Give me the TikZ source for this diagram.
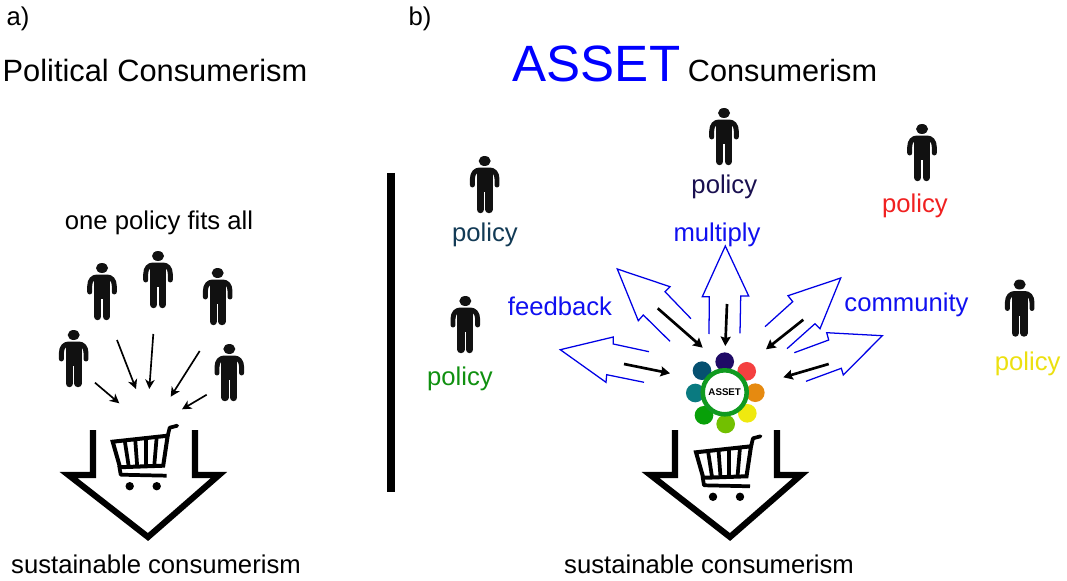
\documentclass[tikz,border=0pt]{standalone}
\usepackage{fontspec}
\setmainfont{Liberation Sans}
\usetikzlibrary{arrows.meta}
\definecolor{inkb}{HTML}{111111}
\definecolor{bluetxt}{HTML}{1010F0}
\definecolor{polA}{HTML}{123A55}
\definecolor{polB}{HTML}{1A1050}
\definecolor{polC}{HTML}{F02020}
\definecolor{polD}{HTML}{109010}
\definecolor{polE}{HTML}{ECE010}
\tikzset{
  lab/.style={anchor=base,inner sep=0pt,font=\fontsize{19.25pt}{23pt}\selectfont},
  small arrow/.style={draw=black,line width=1.25pt,-{Stealth[length=7pt,width=7pt,inset=2pt]}},
  big arrow/.style={draw=black,line width=2pt,-{Stealth[length=7pt,width=7.5pt,inset=1pt]}},
  open arrow/.style={draw=blue!90!black,line width=0.95pt,line join=miter},
  petal/.style={circle,minimum size=14pt,inner sep=0pt},
  person/.pic={
    \fill[inkb] (0,5) ellipse [x radius=6,y radius=5];
    \draw[inkb,line width=3.7pt,line cap=round,line join=round] (-12.3,29) -- (-12.3,23) .. controls (-12.3,17) and (-9,14) .. (-5,14) -- (5,14) .. controls (9,14) and (12.3,17) .. (12.3,23) -- (12.3,29);
    \fill[inkb] (-8,13) rectangle (8,36);
    \draw[inkb,line width=5.6pt,line cap=round] (-4.4,33) -- (-4.4,53.5);
    \draw[inkb,line width=5.6pt,line cap=round] (4.4,33) -- (4.4,53.5);
  },
  cart/.pic={
    \draw[black,line width=3pt,line join=miter] (0,0) -- (55,-6) -- (50.5,24) -- (7.3,25.5) -- cycle;
    \draw[black,line width=2.8pt,line cap=round,line join=round] (55,-6) -- (57,-14) -- (64.5,-16);
    \draw[black,line width=2.8pt,line join=round] (6.5,24) -- (8,33) -- (54,34);
    \foreach \a/\b/\c in {12/-1.3/16,22.5/-2.4/24.5,33/-3.6/33,44/-4.8/41.5}
      \draw[black,line width=2.8pt] (\a,\b) -- (\c,24.5);
    \fill[black] (17,44.5) circle [radius=4.2];
    \fill[black] (44,44.5) circle [radius=4.2];
  },
  downarrow/.pic={
    \draw[black,line width=4.6pt,line join=miter,miter limit=12] (93,430) -- (93,475) -- (68.5,475) -- (148,537) -- (219,475) -- (195,475) -- (195,430);
  }
}
\begin{document}
\begin{tikzpicture}[x=0.75pt,y=-0.75pt]
\useasboundingbox (0,0) rectangle (1067,581);

% --- titles
\node[lab] (aLabel) at (18,26) {a)};
\node[lab,font=\fontsize{23.1pt}{27pt}\selectfont] (titleA) at (155,81.7) {Political Consumerism};
\node[lab] (fitsAll) at (159,229) {one policy fits all};
\node[lab] (susA) at (156,573) {sustainable consumerism};
\node[lab] (bLabel) at (420,26) {b)};
\node[lab,font=\fontsize{38.3pt}{44pt}\selectfont,text=blue] (titleAsset) at (596.5,81.7) {ASSET};
\node[lab,font=\fontsize{23pt}{27pt}\selectfont] (titleB) at (782.5,81.7) {Consumerism};
\node[lab] (susB) at (709,573) {sustainable consumerism};

% --- divider
\coordinate (divTop) at (391,173);
\coordinate (divBot) at (391,492);
\draw[black,line width=6pt] (divTop) -- (divBot);

% --- left people
\pic at (73.7,330) {person};
\pic at (102,263) {person};
\pic at (158,251) {person};
\pic at (217.7,268) {person};
\pic at (229.3,344) {person};

% --- left arrows
\coordinate (la1s) at (95,382.7);    \coordinate (la1e) at (119.3,403.3);
\coordinate (la2s) at (117,340);     \coordinate (la2e) at (136,389);
\coordinate (la3s) at (153.3,334);   \coordinate (la3e) at (149.3,389);
\coordinate (la4s) at (199.7,351);   \coordinate (la4e) at (170.7,396.7);
\coordinate (la5s) at (206.7,394.7); \coordinate (la5e) at (182,409.3);
\foreach \n in {1,...,5} \draw[small arrow] (la\n s) -- (la\n e);

% --- down arrows and carts
\pic at (0,0) {downarrow};
\pic at (582,0) {downarrow};
\pic at (112.7,441.7) {cart};
\pic at (696,452.3) {cart};

% --- right people and policies
\pic at (484.7,156) {person};
\node[lab,text=polA] (polA) at (485,241.7) {policy};
\pic at (724,108) {person};
\node[lab,text=polB] (polB) at (724.3,194) {policy};
\pic at (922,124) {person};
\node[lab,text=polC] (polC) at (915,212) {policy};
\pic at (465.3,296) {person};
\node[lab,text=polD] (polD) at (460,385) {policy};
\pic at (1019.7,279.5) {person};
\node[lab,text=polE] (polE) at (1027.7,370) {policy};

% --- blue words
\node[lab,text=bluetxt] (wordMul) at (717,241.7) {multiply};
\node[lab,text=bluetxt] (wordFee) at (560,315) {feedback};
\node[lab,text=bluetxt] (wordCom) at (906.5,311.7) {community};

% --- open blue arrows
\draw[open arrow] (649,351.7) -- (613.3,344) -- (613.3,337) -- (560.3,349.7) -- (606,382.3) -- (606.7,374.7) -- (644,382.3);
\draw[open arrow] (691,318.7) -- (665,291.7) -- (670,286.7) -- (617.3,269) -- (638.3,320.7) -- (643.3,315) -- (670,341.3);
\draw[open arrow] (709,334) -- (709.3,296.7) -- (702.3,296.7) -- (725.3,246) -- (748.7,296) -- (740.7,296) -- (740,333.3);
\draw[open arrow] (765,326.7) -- (792.7,301.7) -- (788,295.7) -- (840.7,278) -- (820,328.7) -- (815,323.7) -- (787,348.7);
\draw[open arrow] (794.3,352.7) -- (828.7,340) -- (826.7,332.7) -- (882.3,335.7) -- (843.3,375) -- (841.3,368.3) -- (806,381.3);

% --- black arrows towards the ASSET logo
\coordinate (ra1s) at (624,364);     \coordinate (ra1e) at (670,373.3);
\coordinate (ra2s) at (657.7,308.3); \coordinate (ra2e) at (702.7,347.7);
\coordinate (ra3s) at (727,304);     \coordinate (ra3e) at (725.3,346);
\coordinate (ra4s) at (803.3,319.7); \coordinate (ra4e) at (766,349.3);
\coordinate (ra5s) at (828.7,364);   \coordinate (ra5e) at (783.3,377.3);
\foreach \n in {1,...,5} \draw[big arrow] (ra\n s) -- (ra\n e);

% --- ASSET logo
\node[petal,fill={rgb,255:red,31;green,10;blue,102}]   (pNavy)  at (724.7,361.7) {};
\node[petal,fill={rgb,255:red,244;green,64;blue,64}]   (pRed)   at (746.7,371.3) {};
\node[petal,fill={rgb,255:red,230;green,138;blue,16}]  (pOr)    at (755.3,392.7) {};
\node[petal,fill={rgb,255:red,239;green,233;blue,15}]  (pYel)   at (747.3,413.3) {};
\node[petal,fill={rgb,255:red,114;green,192;blue,0}]   (pLime)  at (725.7,424) {};
\node[petal,fill={rgb,255:red,8;green,160;blue,8}]     (pGreen) at (704,415.3) {};
\node[petal,fill={rgb,255:red,10;green,122;blue,128}]  (pTeal)  at (695.3,393) {};
\node[petal,fill={rgb,255:red,6;green,80;blue,112}]    (pDeep)  at (702,370.7) {};
\node[circle,draw={rgb,255:red,16;green,154;blue,32},fill=white,line width=3.4pt,minimum size=33pt,inner sep=0pt,font=\bfseries\fontsize{7.3pt}{8pt}\selectfont] (logo) at (724.7,392.3) {ASSET};
\end{tikzpicture}
\end{document}
